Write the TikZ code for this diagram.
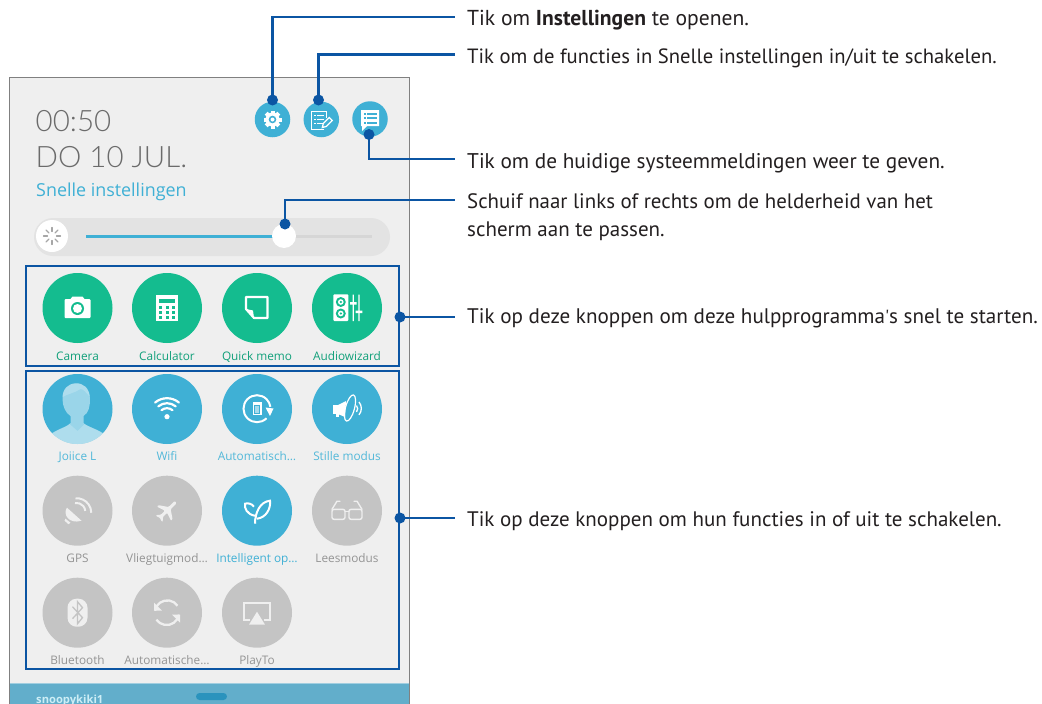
\documentclass[tikz,border=0pt]{standalone}
\usepackage{fontspec}
\setmainfont{PT Sans}
\newfontfamily\plainfont{PT Sans}
\newfontfamily\uifont{Open Sans}
\newfontfamily\uilight{Lato Light}
\usetikzlibrary{calc}
\definecolor{callout}{HTML}{0B55A3}
\definecolor{greenbtn}{HTML}{14BC8F}
\definecolor{bluebtn}{HTML}{3FB0D5}
\definecolor{graybtn}{HTML}{C4C4C4}
\definecolor{panel}{HTML}{EFEFEF}
\definecolor{edge}{HTML}{808080}
\definecolor{bar}{HTML}{62AECB}
\definecolor{handle}{HTML}{2A93BD}
\definecolor{usertxt}{HTML}{CDEEF6}
\definecolor{ink}{HTML}{231F20}
\tikzset{
 x=1pt,y=-1pt,
 txt/.style={anchor=base west,inner sep=0pt,font=\fontsize{#1}{24}\selectfont,text=ink},
 txt/.default=21,
 dotm/.style={circle,fill=callout,inner sep=0pt,minimum size=11pt},
 lead/.style={draw=callout,line width=2.5pt},
 boxm/.style={draw=callout,line width=2pt,inner sep=0pt,anchor=north west},
 btn/.style={circle,inner sep=0pt,minimum size=70pt},
 topbtn/.style={circle,fill=bluebtn,inner sep=0pt,minimum size=35.5pt},
 lab/.style={anchor=base,inner sep=0pt,font=\uifont\fontsize{11.8}{13}\selectfont},
}
\begin{document}
\begin{tikzpicture}
\useasboundingbox (0,0) rectangle (1042,704);
\fill[white] (0,0) rectangle (1042,704);
% panel
\fill[panel] (9.5,77.5) rectangle (409.5,704);
\fill[bar] (9.5,684) rectangle (409.5,704);
\fill[bar!60!white] (9.5,683.3) rectangle (409.5,684.3);
\draw[edge,line width=1.2pt] (9.5,704) -- (9.5,77.5) -- (409.5,77.5) -- (409.5,704);
\fill[handle,rounded corners=3.5pt] (196,693) rectangle (227,700);
\node[anchor=base west,inner sep=0pt,text=usertxt,font=\uifont\bfseries\fontsize{11.2}{12}\selectfont] (user) at (36,703) {snoopykiki1};
% header
\node[anchor=base west,inner sep=0pt,text=black!58,font=\uilight\fontsize{29.5}{34}\selectfont] (clock) at (35.5,131) {00:50};
\node[anchor=base west,inner sep=0pt,text=black!58,font=\uilight\fontsize{29.5}{34}\selectfont] (date) at (35.5,167) {DO 10 JUL.};
\node[anchor=base west,inner sep=0pt,text=bluebtn,font=\uifont\fontsize{17.9}{20}\selectfont] (snel) at (36,196) {Snelle instellingen};
% top buttons
\node[topbtn] (b1) at (272.5,119.5) {};
\node[topbtn] (b2) at (321.3,119.5) {};
\node[topbtn] (b3) at (370,119) {};
% gear
\begin{scope}[shift={(b1)}]
\foreach \a in {0,45,...,315}{\fill[white,rotate=\a] (-2,-9) rectangle (2,-5);}
\fill[white] (0,0) circle (7);
\fill[bluebtn] (0,0) circle (3.8);
\fill[white] (0,0) circle (2);
\end{scope}
% notes + pencil
\begin{scope}[shift={(b2)}]
\draw[white,line width=1.4pt] (3,10) -- (-10,10) -- (-10,-8) -- (5,-8) -- (5,-2);
\foreach \y in {-4,0,4}{\fill[white] (-7.5,\y-1) rectangle (-5.5,\y+.8); \fill[white] (-4,\y-.6) rectangle (3,\y+.5);}
\draw[white,line width=1.3pt,fill=bluebtn] (1,8) -- (2,4) -- (8,-2) -- (11,1) -- (5,7) -- cycle;
\end{scope}
% list bubble
\begin{scope}[shift={(b3)}]
\fill[white] (-9,-9) rectangle (9,7) (-8,7) -- (-8,12) -- (-3,7) -- cycle;
\foreach \y in {-5.5,-1,3.5}{\fill[bluebtn] (-6.5,\y-1) rectangle (-4.5,\y+1); \fill[bluebtn] (-3,\y-1) rectangle (6.5,\y+1);}
\end{scope}
% slider
\fill[black!11,rounded corners=19pt] (34,218) rectangle (390,256);
\node[circle,fill=white,inner sep=0pt,minimum size=32pt] (sun) at (52,236) {};
\foreach \a in {0,45,...,315}{\draw[black!35,line width=1.3pt,line cap=round,shift={(sun)},rotate=\a] (0,-4.5) -- (0,-8.5);}
\fill[black!16] (275,234.8) rectangle (372,237.6);
\fill[bluebtn] (86,234.8) rectangle (275,237.6);
\node[circle,fill=white,inner sep=0pt,minimum size=24pt] (knob) at (284,236) {};
% boxes
\node[boxm,minimum width=373pt,minimum height=100.5pt] (box1) at (25,264.5) {};
\node[boxm,minimum width=373pt,minimum height=298pt] (box2) at (25,369.5) {};
% round buttons
\node[btn,fill=greenbtn] (camera) at (77.5,308) {};
\node[btn,fill=greenbtn] (calc) at (167,308) {};
\node[btn,fill=greenbtn] (memo) at (257,308) {};
\node[btn,fill=greenbtn] (audio) at (347,308) {};
\node[btn,fill=bluebtn] (joiice) at (77.5,409) {};
\node[btn,fill=bluebtn] (wifi) at (167,409) {};
\node[btn,fill=bluebtn] (rot) at (257,409) {};
\node[btn,fill=bluebtn] (mute) at (347,409) {};
\node[btn,fill=graybtn] (gps) at (77.5,510.7) {};
\node[btn,fill=graybtn] (plane) at (167,510.7) {};
\node[btn,fill=bluebtn] (leaf) at (257,510.7) {};
\node[btn,fill=graybtn] (read) at (347,510.7) {};
\node[btn,fill=graybtn] (bt) at (77.5,612.7) {};
\node[btn,fill=graybtn] (sync) at (167,612.7) {};
\node[btn,fill=graybtn] (play) at (257,612.7) {};
% labels
\begin{scope}[every node/.append style={lab}]
\node[text=greenbtn!85!black] (l1) at (77.5,360) {Camera};
\node[text=greenbtn!85!black] (l2) at (167,360) {Calculator};
\node[text=greenbtn!85!black] (l3) at (257,360) {Quick memo};
\node[text=greenbtn!85!black] (l4) at (347,360) {Audiowizard};
\node[text=bluebtn!90!white] (l5) at (77.5,460.5) {Joiice L};
\node[text=bluebtn!90!white] (l6) at (167,460.5) {Wifi};
\node[text=bluebtn!90!white] (l7) at (257,460.5) {Automatisch…};
\node[text=bluebtn!90!white] (l8) at (347,460.5) {Stille modus};
\node[text=black!42] (l9) at (77.5,562.5) {GPS};
\node[text=black!42] (l10) at (167,562.5) {Vliegtuigmod…};
\node[text=bluebtn] (l11) at (257,562.5) {Intelligent op…};
\node[text=black!42] (l12) at (347,562.5) {Leesmodus};
\node[text=black!42] (l13) at (77.5,664.5) {Bluetooth};
\node[text=black!42] (l14) at (167,664.5) {Automatische…};
\node[text=black!42] (l15) at (257,664.5) {PlayTo};
\end{scope}
% camera icon
\begin{scope}[shift={(camera)}]
\fill[white,rounded corners=1pt] (-13,-9) rectangle (13,10);
\fill[white] (-7,-9) -- (-5,-11.5) -- (5,-11.5) -- (7,-9) -- cycle;
\fill[greenbtn] (0,0.5) circle (6.5);
\fill[white] (0,0.5) circle (4.5);
\end{scope}
% calculator
\begin{scope}[shift={(calc)}]
\fill[white] (-11,-13) rectangle (11,13);
\fill[greenbtn] (-8,-9) rectangle (8,-5.5);
\foreach \x in {-6.5,0,6.5}\foreach \y in {-1,4,9}{\fill[greenbtn] (\x-1.5,\y-1.5) rectangle (\x+1.5,\y+1.5);}
\end{scope}
% memo
\begin{scope}[shift={(memo)}]
\draw[white,line width=2.2pt,line join=round] (-11,-11) -- (10.5,-11) -- (10.5,10) -- (-3,10) -- (-11,1) -- cycle;
\fill[white] (-11,1) -- (-4,2.5) -- (-3,10) -- cycle;
\end{scope}
% audiowizard
\begin{scope}[shift={(audio)}]
\fill[white,rounded corners=1pt] (-13.7,-13.7) rectangle (1.3,13);
\fill[greenbtn] (-6.2,-6) circle (5);
\fill[white] (-6.2,-6) circle (2.8);
\fill[greenbtn] (-6.2,-6) circle (1.2);
\fill[greenbtn] (-6.2,5.5) circle (5);
\fill[white] (-6.2,5.5) circle (2.8);
\fill[greenbtn] (-6.2,5.5) circle (1.2);
\fill[white] (5.7,-13.5) rectangle (6.9,13) (11.4,-13.5) rectangle (12.6,13);
\fill[white] (3,-6) rectangle (9.7,-3.5) (8.7,2.5) rectangle (15.4,5);
\end{scope}
% person
\begin{scope}
\clip (joiice) circle (35);
\begin{scope}[shift={(joiice)}]
\fill[white,opacity=.48] (-7,7) .. controls (-12,4) and (-15,-3) .. (-15,-10) .. controls (-15,-20) and (-10,-25) .. (-2,-25.7) .. controls (6,-26) and (12,-21) .. (12.5,-10) .. controls (12.5,-2) and (11,4) .. (6,7) -- (6,14) .. controls (10,18) and (20,20) .. (28,26) -- (20,40) -- (-20,40) -- (-28,26) .. controls (-20,20) and (-10,18) .. (-7,14) -- cycle;
\fill[white,opacity=.2] (-28,26) .. controls (-20,20) and (-12,18) .. (-8,15) -- (0,22) -- (7,15) .. controls (12,18) and (20,20) .. (28,26) -- (20,40) -- (-20,40) -- cycle;
\fill[white,opacity=.2] (-15,-12) .. controls (-15,-20) and (-10,-25) .. (-2,-25.7) .. controls (6,-26) and (12,-21) .. (12.5,-12) .. controls (8,-17) and (6,-20) .. (3,-20) .. controls (-3,-16) and (-10,-15) .. (-15,-12) -- cycle;
\end{scope}
\end{scope}
% wifi
\begin{scope}[shift={(wifi)}]
\fill[white] (0,7.7) circle (2.6);
\foreach \r in {8.5,13.5,18.5}{\draw[white,line width=2.2pt,line cap=round] (0,7.7) ++(230:\r) arc[start angle=230,end angle=310,radius=\r];}
\end{scope}
% rotate
\begin{scope}[shift={(rot)}]
\draw[white,line width=2pt] (0,-.3) ++(45:13.5) arc[start angle=45,end angle=352,radius=13.5];
\draw[white,line width=1.2pt] (-3.7,-6.7) rectangle (4,5.3);
\fill[white] (-3.7,-6.7) rectangle (4,-4.2);
\fill[white,opacity=.55] (-2,-3.5) rectangle (2.4,3.7);
\fill[white] (8.5,-1.5) -- (16.5,-.5) -- (13,7) -- cycle;
\end{scope}
% mute
\begin{scope}[shift={(mute)}]
\fill[white] (-14,-4) rectangle (-8,5);
\fill[white] (-9,-4) -- (-1,-8) -- (-2,8) -- (-9,5) -- cycle;
\fill[white] (-11,5) rectangle (-8,8);
\draw[white,line width=1.2pt,rotate around={-15:(3,-1)}] (3,-1) ellipse (4.5 and 13.5);
\draw[white,line width=1.3pt] (9.5,-3.5) arc[start angle=-40,end angle=40,radius=5];
\draw[white,line width=1.3pt] (12,-7) arc[start angle=-40,end angle=40,radius=10];
\end{scope}
% gps
\begin{scope}[shift={(gps)}]
\fill[panel] (-10.5,-3) .. controls (-15,3) and (-9,14) .. (4,10) -- cycle;
\fill[panel] (-12,8) -- (-7,12) -- (-9,13.5) -- (-13,10) -- cycle;
\draw[panel,line width=2pt] (-2.5,-7.7) arc[start angle=-100,end angle=-5,radius=8.8];
\draw[panel,line width=2pt] (-2,-12.4) arc[start angle=-95,end angle=0,radius=14.5];
\end{scope}
% plane
\begin{scope}[shift={(plane)},rotate=-45,scale=.72]
\fill[panel,rounded corners=1pt] (-2,-17) -- (2,-17) -- (2.2,-5) -- (14,3) -- (14,6) -- (2.2,2) -- (2,10) -- (6,14) -- (6,16) -- (0,14) -- (-6,16) -- (-6,14) -- (-2,10) -- (-2.2,2) -- (-14,6) -- (-14,3) -- (-2.2,-5) -- cycle;
\end{scope}
% leaf
\begin{scope}[shift={(leaf)}]
\draw[white,line width=2pt] (-2,5) .. controls (-10,4) and (-13,-3) .. (-12,-7) .. controls (-9,-8) and (-5,-7) .. (-3,-4);
\draw[white,line width=2pt] (-2,13) .. controls (-2,2) and (3,-9) .. (13,-10) .. controls (14,-2) and (9,7) .. (0,8);
\end{scope}
% glasses
\begin{scope}[shift={(read)}]
\draw[panel,line width=1.4pt,rounded corners=2pt] (-15,-1.4) rectangle (-2,8.6) (2,-1.4) rectangle (15,8.6);
\draw[panel,line width=1.4pt] (-2,1) -- (2,1);
\draw[panel,line width=1.4pt,line cap=round] (-15,-1.4) -- (-10,-9.5) -- (-7,-9.5) (15,-1.4) -- (10,-9.5) -- (7,-9.5);
\end{scope}
% bluetooth
\begin{scope}[shift={(bt)}]
\fill[panel,rounded corners=9pt] (-10,-14) rectangle (10,14);
\draw[graybtn,line width=1.3pt] (-5,-6) -- (5,5) -- (0,11) -- (0,-11) -- (5,-5) -- (-5,6);
\end{scope}
% sync
\begin{scope}[shift={(sync)}]
\draw[panel,line width=2.3pt] (-12,-2) arc[start angle=190,end angle=325,radius=12.5];
\draw[panel,line width=2.3pt] (12,2) arc[start angle=10,end angle=145,radius=12.5];
\fill[panel] (-13,-10) -- (-13,-2) -- (-5,-2) -- cycle;
\fill[panel] (13,10) -- (13,2) -- (5,2) -- cycle;
\end{scope}
% airplay
\begin{scope}[shift={(play)}]
\draw[panel,line width=2pt] (-7,7) -- (-13,7) -- (-13,-10) -- (13,-10) -- (13,7) -- (7,7);
\fill[panel] (0,-1) -- (-8,12) -- (8,12) -- cycle;
\end{scope}
% callout dots and leads
\node[dotm] (d1) at (272.5,100) {};
\node[dotm] (d2) at (318.5,100) {};
\node[dotm] (d3) at (369,134.5) {};
\node[dotm] (d4) at (285,224) {};
\coordinate (e1) at (455,17);
\coordinate (e2) at (455,54.5);
\coordinate (e3) at (455,159);
\coordinate (e4) at (455,200);
\coordinate (e5) at (455,317);
\coordinate (e6) at (455,518);
\node[dotm] (d5) at (box1.east |- e5) {};
\node[dotm] (d6) at (box2.east |- e6) {};
\draw[lead] (d1.center) |- (e1);
\draw[lead] (d2.center) |- (e2);
\draw[lead] (d3.center) |- (e3);
\draw[lead] (d4.center) |- (e4);
\draw[lead] (d5.center) -- (e5);
\draw[lead] (d6.center) -- (e6);
% texts
\node[txt=21.6] (t1) at (467,25) {Tik om \textbf{Instellingen} te openen.};
\node[txt=20.65] (t2) at (467,63) {Tik om de functies in Snelle instellingen in/uit te schakelen.};
\node[txt=21.27] (t3) at (467,168) {Tik om de huidige systeemmeldingen weer te geven.};
\node[txt=20.9] (t4) at (467,208) {Schuif naar links of rechts om de helderheid van het};
\node[txt] (t5) at (467,236) {scherm aan te passen.};
\node[txt=21.1] (t6) at (467,323) {Tik op deze knoppen om deze hulpprogramma{\plainfont\fontsize{19}{24}\selectfont'}s snel te starten.};
\node[txt] (t7) at (467,526) {Tik op deze knoppen om hun functies in of uit te schakelen.};
\end{tikzpicture}
\end{document}
